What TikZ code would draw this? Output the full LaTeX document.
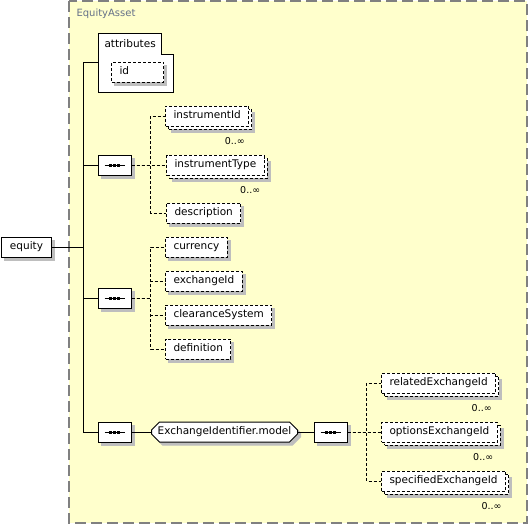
\documentclass[tikz,border=0pt]{standalone}
\usepackage{fontspec}
\setmainfont{DejaVu Sans}
\usepackage{xcolor}
\usetikzlibrary{positioning,shadows,shapes.misc}

\definecolor{grpfill}{RGB}{255,255,204}
\definecolor{grpline}{RGB}{128,128,128}
\definecolor{grptext}{RGB}{100,112,136}
\definecolor{shadowgray}{RGB}{190,190,190}

\begin{document}
\begin{tikzpicture}[
  x=1pt, y=-1pt,
  font=\fontsize{10.5}{12}\selectfont,
  line width=1pt,
  % gray shadow under a box
  grayshadow/.style={preaction={fill=shadowgray, draw=shadowgray, solid, transform canvas={shift={(#1,-#1)}}}},
  % boxes of the schema, plain outline first
  elembox/.style={draw, fill=white, anchor=west, minimum height=20pt, inner xsep=8pt, inner ysep=0pt, text height=8pt, text depth=2.5pt},
  elem/.style={elembox, grayshadow=3pt},
  optelem/.style={elem, dash pattern=on 3pt off 2pt},
  multelem/.style={elembox, dash pattern=on 3pt off 2pt, grayshadow=6pt,
    copy shadow={shadow xshift=3pt, shadow yshift=-3pt}},
  seqbox/.style={chamfered rectangle, chamfered rectangle sep=5pt, draw, fill=white, minimum width=33pt, minimum height=20pt, inner sep=0pt, grayshadow=3pt},
  grpref/.style={chamfered rectangle, chamfered rectangle sep=4pt, draw, fill=white, anchor=west, minimum width=146pt, minimum height=20pt, inner sep=0pt, text height=8pt, text depth=2.5pt, grayshadow=3pt},
  mult/.style={font=\fontsize{9.5}{10}\selectfont, inner sep=0pt, anchor=north east},
  conn/.style={dash pattern=on 3pt off 2pt}
]
  \useasboundingbox (0,0) rectangle (528,525);

  % complex type group
  \draw[grpline, fill=grpfill, line width=1.2pt, dash pattern=on 11pt off 5pt] (69,1) rectangle (527,523);
  \node[grptext, anchor=west, inner sep=0pt, font=\fontsize{10}{12}\selectfont] (grp) at (76,14) {EquityAsset};

  % attributes
  \draw[fill=white] (98,33) -- (161,33) -- (161,54) -- (173,54) -- (173,92) -- (98,92) -- cycle;
  \node[anchor=west, inner sep=0pt] (attr) at (104,44) {attributes};
  \node[optelem, text width=36pt, align=left] (id) at (111,72) {id};
  \coordinate (attrin) at (98,62);
  \coordinate (bus) at (83,62);

  \node[elem, minimum width=50pt] (equity) at (1,247) {equity};

  % sequences
  \node[seqbox] (seq1) at (114.5,165) {};
  \node[seqbox] (seq2) at (114.5,298) {};
  \node[seqbox] (seq3) at (114.5,432) {};
  \node[grpref] (model) at (151,432) {ExchangeIdentifier.model};
  \node[seqbox] (seq4) at (330.5,432) {};
  \foreach \s in {seq1,seq2,seq3,seq4} {
    \draw ([xshift=-10pt]\s.center) -- ([xshift=10pt]\s.center);
    \foreach \dx in {-4,0,4}
      \fill ([xshift=\dx pt]\s.center) +(-1.5,-1.5) rectangle +(1.5,1.5);
  }

  % children
  \node[multelem] (iid) at (165,116) {instrumentId};
  \node[multelem] (itype) at (166,165) {instrumentType};
  \node[optelem] (desc) at (166,213) {description};
  \node[optelem] (cur) at (165,247) {currency};
  \node[optelem] (exid) at (165,281) {exchangeId};
  \node[optelem] (clear) at (165,315) {clearanceSystem};
  \node[optelem] (defn) at (165,349) {definition};
  \node[multelem] (relex) at (381,383) {relatedExchangeId};
  \node[multelem] (optex) at (381,432) {optionsExchangeId};
  \node[multelem] (specex) at (381,481) {specifiedExchangeId};

  \foreach \c in {iid,itype,relex,optex,specex}
    \node[mult] (\c m) at ([shift={(-4,10)}]\c.south east) {0..∞};

  % connectors
  \draw (attrin) -- (bus) -- (bus |- seq3.west) -- (seq3.west);
  \draw (equity.east) -- (equity.east -| bus);
  \foreach \s in {seq1,seq2} \draw (\s.west) -- (\s.west -| bus);
  \draw (seq3.east) -- (model.west);
  \draw (model.east) -- (seq4.west);
  \foreach \s/\c in {seq1/iid,seq1/itype,seq1/desc,seq2/cur,seq2/exid,seq2/clear,seq2/defn,seq4/relex,seq4/optex,seq4/specex}
    \draw[conn] (\s.east) -- ++(19,0) |- (\c.west);
\end{tikzpicture}
\end{document}
